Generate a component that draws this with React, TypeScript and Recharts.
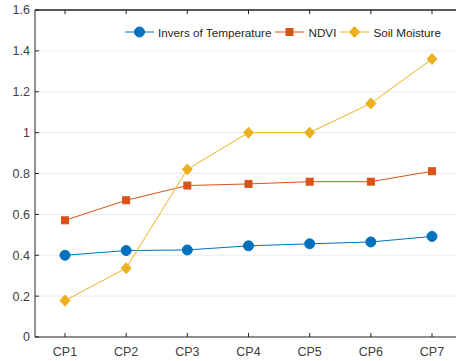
import React from "react";
import * as R from "recharts";
import { LineChart, Line, XAxis, YAxis, CartesianGrid, ReferenceLine } from "recharts";

const categories = ["CP1", "CP2", "CP3", "CP4", "CP5", "CP6", "CP7"];
const inversTemp = [0.40, 0.423, 0.426, 0.446, 0.456, 0.465, 0.492];
const ndvi = [0.571, 0.669, 0.741, 0.749, 0.76, 0.76, 0.811];
const soilMoisture = [0.178, 0.337, 0.82, 1.0, 1.0, 1.143, 1.36];
const yTicks = [0, 0.2, 0.4, 0.6, 0.8, 1, 1.2, 1.4, 1.6];
const Y_MAX = 1.6;

const BLUE = "#0072BD";
const ORANGE = "#D95319";
const YELLOW = "#EDB120";
const TEXT = "#404040";
const AXIS = "#262626";
const FONT = "Liberation Sans, Arial, sans-serif";

const data = categories.map((c, i) => ({
  cp: c,
  temp: inversTemp[i],
  ndvi: ndvi[i],
  soil: soilMoisture[i],
}));

const Marker = ({ kind, cx, cy, color }: any) => {
  if (cx == null || cy == null) return null;
  if (kind === "circle") return <circle cx={cx} cy={cy} r={5} fill={color} stroke={color} />;
  if (kind === "square")
    return <rect x={cx - 3.5} y={cy - 3.5} width={7} height={7} fill={color} stroke={color} />;
  return (
    <polygon
      points={`${cx},${cy - 5.5} ${cx + 5},${cy} ${cx},${cy + 5.5} ${cx - 5},${cy}`}
      fill={color}
      stroke={color}
    />
  );
};

const BottomTick = ({ x, y, payload }: any) => (
  <g>
    <line x1={x} y1={y} x2={x} y2={y - 4} stroke={AXIS} strokeWidth={1} />
    <text x={x} y={y + 15} textAnchor="middle" fontSize={12.5} fill={TEXT} fontFamily={FONT} dy="0.35em">
      {payload.value}
    </text>
  </g>
);

const LeftTick = ({ x, y, payload }: any) => (
  <g>
    <line x1={x} y1={y} x2={x + 4} y2={y} stroke={AXIS} strokeWidth={1} />
    <text x={x - 5} y={y} textAnchor="end" fontSize={12.5} fill={TEXT} fontFamily={FONT} dy="0.35em">
      {payload.value}
    </text>
  </g>
);

// Top frame line of the plot box, taken from the chart's own plot area
const TopFrame = () => {
  const usePA = (R as any).usePlotArea;
  const pa = usePA ? usePA() : null;
  if (!pa) return null;
  return (
    <line
      x1={pa.x}
      y1={pa.y}
      x2={pa.x + pa.width}
      y2={pa.y}
      stroke={AXIS}
      strokeWidth={1}
    />
  );
};

const legendItems = [
  { label: "Invers of Temperature", color: BLUE, kind: "circle" },
  { label: "NDVI", color: ORANGE, kind: "square" },
  { label: "Soil Moisture", color: YELLOW, kind: "diamond" },
];

const LegendContent = () => (
  <div style={{ display: "flex", alignItems: "center", fontFamily: FONT, fontSize: 11.7, color: "#262626" }}>
    {legendItems.map((it) => (
      <div key={it.label} style={{ display: "flex", alignItems: "center", marginRight: 4 }}>
        <svg width={29} height={14}>
          <line x1={0} y1={7} x2={29} y2={7} stroke={it.color} strokeWidth={1} />
          <Marker kind={it.kind} cx={14.5} cy={7} color={it.color} />
        </svg>
        <span style={{ marginLeft: 4, whiteSpace: "nowrap" }}>{it.label}</span>
      </div>
    ))}
  </div>
);

export default function App() {
  return (
    <div style={{ position: "absolute", left: 0, top: 0, width: 456, height: 361, overflow: "hidden", background: "#fff" }}>
      <LineChart width={470} height={361} data={data} margin={{ top: 10, right: 8, bottom: 0, left: 0 }}>
        <CartesianGrid vertical={false} stroke="#ebebeb" />
        <XAxis
          dataKey="cp"
          padding={{ left: 30, right: 30 }}
          axisLine={{ stroke: AXIS }}
          tickLine={false}
          tickSize={0}
          tickMargin={0}
          tick={<BottomTick />}
          interval={0}
          height={24}
        />
        <YAxis
          domain={[0, Y_MAX]}
          ticks={yTicks}
          width={35}
          axisLine={{ stroke: AXIS }}
          tickLine={false}
          tickSize={0}
          tickMargin={0}
          tick={<LeftTick />}
          interval={0}
        />
        <ReferenceLine y={Y_MAX} stroke={AXIS} strokeWidth={1} ifOverflow="visible" />
        {categories.map((c) => (
          <ReferenceLine
            key={`tt${c}`}
            segment={[{ x: c, y: Y_MAX }, { x: c, y: Y_MAX - 0.02 }]}
            stroke={AXIS}
            strokeWidth={1}
            ifOverflow="visible"
          />
        ))}
        <Line
          dataKey="temp"
          name="Invers of Temperature"
          stroke={BLUE}
          strokeWidth={1}
          isAnimationActive={false}
          dot={(p: any) => <Marker key={`t${p.index}`} kind="circle" cx={p.cx} cy={p.cy} color={BLUE} />}
        />
        <Line
          dataKey="ndvi"
          name="NDVI"
          stroke={ORANGE}
          strokeWidth={1}
          isAnimationActive={false}
          dot={(p: any) => <Marker key={`n${p.index}`} kind="square" cx={p.cx} cy={p.cy} color={ORANGE} />}
        />
        <Line
          dataKey="soil"
          name="Soil Moisture"
          stroke={YELLOW}
          strokeWidth={1}
          isAnimationActive={false}
          dot={(p: any) => <Marker key={`s${p.index}`} kind="diamond" cx={p.cx} cy={p.cy} color={YELLOW} />}
        />
        <TopFrame />
      </LineChart>
      <div style={{ position: "absolute", top: 25, left: 125 }}>
        <LegendContent />
      </div>
    </div>
  );
}
